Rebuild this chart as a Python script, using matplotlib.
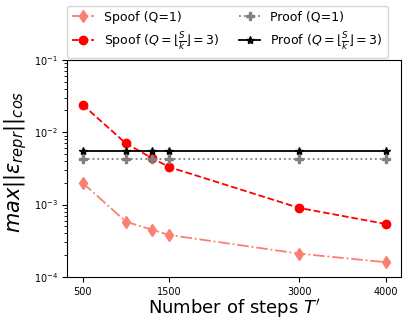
import matplotlib
matplotlib.use('Agg')
import matplotlib.pyplot as plt

# number of steps T'
steps = [500, 1000, 1300, 1500, 3000, 4000]

spoof_q1 = [2.0e-3, 5.8e-4, 4.5e-4, 3.8e-4, 2.1e-4, 1.6e-4]
spoof_q3 = [2.4e-2, 7.0e-3, 4.4e-3, 3.3e-3, 9.0e-4, 5.4e-4]
proof_q1 = [4.3e-3, 4.3e-3, 4.3e-3, 4.3e-3, 4.3e-3, 4.3e-3]
proof_q3 = [5.5e-3, 5.5e-3, 5.5e-3, 5.5e-3, 5.5e-3, 5.5e-3]

xticks = [500, 1500, 3000, 4000]

fig, ax = plt.subplots(figsize=(4.09, 3.27), dpi=100)

lw = 1.3
ax.plot(steps, spoof_q1, '-.', color='salmon', marker='d', markersize=6, lw=lw, label='Spoof (Q=1)')
ax.plot(steps, spoof_q3, '--', color='red', marker='o', markersize=6, lw=lw,
        label=r'Spoof ($Q=\lfloor\frac{S}{k}\rfloor=3$)')
ax.plot(steps, proof_q1, ':', color='gray', marker='P', markersize=6, lw=lw, label='Proof (Q=1)')
ax.plot(steps, proof_q3, '-', color='black', marker='*', markersize=6, lw=lw,
        label=r'Proof ($Q=\lfloor\frac{S}{k}\rfloor=3$)')

ax.set_yscale('log')
ax.set_ylim(1e-4, 1e-1)
ax.set_xticks(xticks)
ax.set_xticklabels([str(t) for t in xticks])
ax.tick_params(labelsize=7)

ax.set_xlabel(r"Number of steps $T'$", fontsize=13)
ax.set_ylabel(r'$max||\epsilon_{repr}||_{cos}$', fontsize=15)
ax.xaxis.set_label_coords(0.5, -0.09)
ax.yaxis.set_label_coords(-0.115, 0.53)

ax.legend(loc='lower center', bbox_to_anchor=(0.48, 1.005), ncol=2, fontsize=9,
          borderaxespad=0.1, handlelength=1.7, columnspacing=1.6)

fig.subplots_adjust(left=0.165, right=0.98, top=0.817, bottom=0.153)
fig.savefig('out.png', dpi=100)
